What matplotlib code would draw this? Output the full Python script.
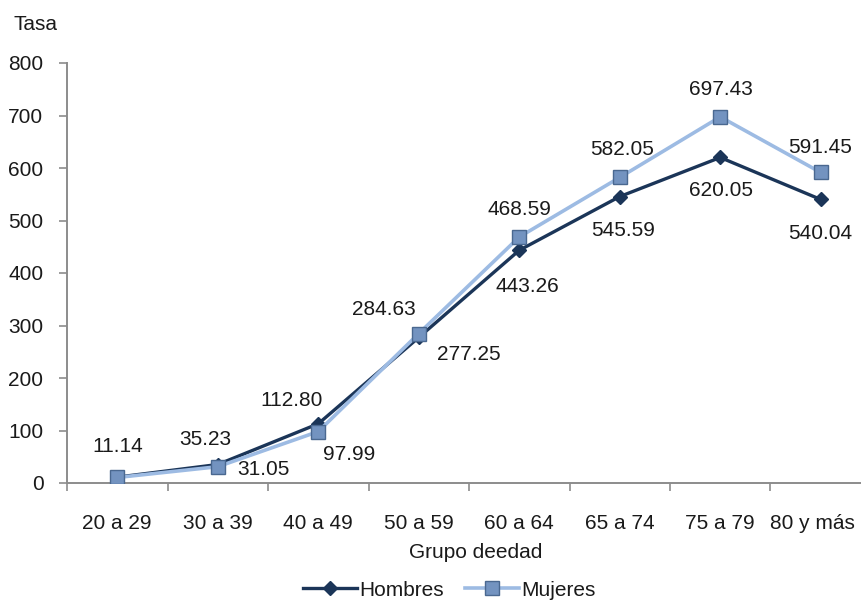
import numpy as np
import matplotlib.pyplot as plt
import matplotlib.transforms as mtransforms

plt.rcParams['font.family'] = ['Liberation Sans', 'DejaVu Sans']

# ---- data ----
grupos = ['20 a 29', '30 a 39', '40 a 49', '50 a 59', '60 a 64', '65 a 74', '75 a 79', '80 y más']
hombres = [11.14, 35.23, 112.80, 277.25, 443.26, 545.59, 620.05, 540.04]
mujeres = [10.50, 31.05, 97.99, 284.63, 468.59, 582.05, 697.43, 591.45]

# label offsets in pixels (None = no label)
off_h = [(0, 31), (-12, 25), (-27, 23), (50, -17), (8, -36), (3, -34), (1, -33), (-1, -34)]
off_m = [None, (46, -3), (31, -23), (-35, 24), (0, 27), (2, 28), (1, 27), (-1, 25)]

c_h = '#1b3558'
c_m = '#9dbbe3'
txt = '#1a1a1a'
fs = 15

fig = plt.figure(figsize=(8.61, 6.02), dpi=100)
ax = fig.add_axes([67 / 861, 119 / 602, 804 / 861, 420 / 602])

x = np.arange(len(grupos))
ax.plot(x, hombres, color=c_h, lw=2.4, marker='D', ms=7,
        mfc=c_h, mec=c_h, label='Hombres', zorder=3)
ax.plot(x, mujeres, color=c_m, lw=2.6, marker='s', ms=10.5,
        mfc='#7393c0', mec='#4a6890', mew=1.0, label='Mujeres', zorder=4)

for xi, v, o in zip(x, hombres, off_h):
    if o is not None:
        ax.annotate(f'{v:.2f}', (xi, v), xytext=o, textcoords='offset pixels',
                    ha='center', va='center', fontsize=fs, color=txt, zorder=6)
for xi, v, o in zip(x, mujeres, off_m):
    if o is not None:
        ax.annotate(f'{v:.2f}', (xi, v), xytext=o, textcoords='offset pixels',
                    ha='center', va='center', fontsize=fs, color=txt, zorder=6)

ax.set_xlim(-0.5, len(grupos) - 0.5)
ax.set_ylim(0, 800)
ax.set_yticks(np.arange(0, 801, 100))
ax.set_xticks(x)
ax.set_xticklabels(grupos)
ax.set_xticks(np.arange(-0.5, len(grupos)), minor=True)

for s in ['top', 'right']:
    ax.spines[s].set_visible(False)
for s in ['left', 'bottom']:
    ax.spines[s].set_color('#8c8c8c')
    ax.spines[s].set_linewidth(1.4)

ax.tick_params(axis='x', which='major', length=0, pad=22, labelsize=fs, labelcolor=txt)
ax.tick_params(axis='x', which='minor', length=6, width=1.2, color='#8c8c8c', direction='out')
ax.tick_params(axis='y', length=6, width=1.2, color='#8c8c8c', direction='out',
               pad=11, labelsize=fs, labelcolor=txt)

# last category label sits against the right edge
last = ax.get_xticklabels()[-1]
last.set_transform(last.get_transform() +
                   mtransforms.ScaledTranslation(-8 / 100, 0, fig.dpi_scale_trans))

fig.text(13 / 861, 1 - 25 / 602, 'Tasa', fontsize=fs, color=txt, va='center', ha='left')
fig.text(476 / 861, 1 - 553 / 602, 'Grupo deedad', fontsize=fs, color=txt,
         va='center', ha='center')

fig.legend(loc='center', bbox_to_anchor=(449 / 861, 1 - 590 / 602), ncol=2,
           frameon=False, fontsize=fs, handlelength=2.6, handletextpad=0.1,
           columnspacing=1.0, labelcolor=txt)

fig.savefig('out.png', dpi=100)
